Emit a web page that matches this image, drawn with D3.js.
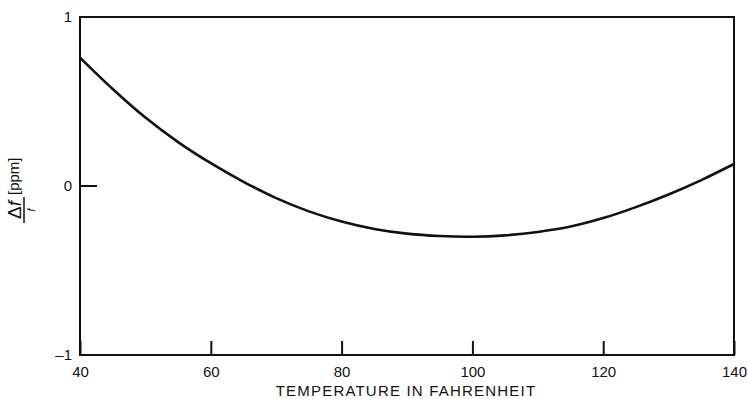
<!DOCTYPE html>
<html>
<head>
<meta charset="utf-8">
<script src="https://cdn.jsdelivr.net/npm/d3@7"></script>
<style>
  body { margin: 0; background: #fff; }
  text { font-family: "Liberation Sans", Arial, sans-serif; fill: #111; }
</style>
</head>
<body>
<div id="chart"></div>
<script>
// temperature (F) and frequency drift (ppm)
var temps = [40, 45, 50, 55, 60, 65, 70, 75, 80, 85, 90, 95, 100, 105, 110, 115, 120, 125, 130, 135, 140];
var drift = [0.76, 0.574, 0.405, 0.26, 0.135, 0.025, -0.072, -0.15, -0.21, -0.254, -0.282, -0.296, -0.30, -0.292, -0.272, -0.24, -0.19, -0.125, -0.05, 0.035, 0.13];

var xTicks = [40, 60, 80, 100, 120, 140];
var yTicks = [-1, 0, 1];
var xTitle = "TEMPERATURE IN FAHRENHEIT";

var width = 748, height = 399;
var plotLeft = 80, plotRight = 734, plotTop = 17, plotBottom = 355;

var svg = d3.select("#chart").append("svg")
  .attr("width", width)
  .attr("height", height);

var x = d3.scaleLinear().domain([40, 140]).range([plotLeft, plotRight]);
var y = d3.scaleLinear().domain([-1, 1]).range([plotBottom, plotTop]);

// frame
svg.append("rect")
  .attr("x", plotLeft).attr("y", plotTop)
  .attr("width", plotRight - plotLeft).attr("height", plotBottom - plotTop)
  .attr("fill", "none")
  .attr("stroke", "#111")
  .attr("stroke-width", 2);

// bottom axis, ticks point inward
var xAxis = svg.append("g")
  .attr("transform", "translate(0," + plotBottom + ")")
  .call(d3.axisBottom(x).tickValues(xTicks).tickSize(-14).tickPadding(22).tickFormat(d3.format("d")));
xAxis.select(".domain").remove();
xAxis.selectAll("line").attr("stroke", "#111").attr("stroke-width", 2);
xAxis.selectAll("text").attr("font-size", 15).attr("dy", "0");

// left axis, only the zero tick has a visible mark
var yAxis = svg.append("g")
  .attr("transform", "translate(" + plotLeft + ",0)")
  .call(d3.axisLeft(y).tickValues(yTicks).tickSize(0).tickPadding(8)
    .tickFormat(function (d) { return d < 0 ? "\u2013" + Math.abs(d) : d; }));
yAxis.select(".domain").remove();
yAxis.selectAll("text").attr("font-size", 15);

svg.append("line")
  .attr("x1", plotLeft).attr("x2", plotLeft + 17)
  .attr("y1", y(0)).attr("y2", y(0))
  .attr("stroke", "#111").attr("stroke-width", 2);

// curve
var line = d3.line()
  .x(function (d, i) { return x(temps[i]); })
  .y(function (d) { return y(d); })
  .curve(d3.curveCatmullRom);

svg.append("path")
  .datum(drift)
  .attr("d", line)
  .attr("fill", "none")
  .attr("stroke", "#111")
  .attr("stroke-width", 2.6);

// x title
svg.append("text")
  .attr("x", (plotLeft + plotRight) / 2 - 1)
  .attr("y", 396)
  .attr("text-anchor", "middle")
  .attr("font-size", 15)
  .attr("letter-spacing", 1.2)
  .text(xTitle);

// y title: delta f over f [ppm], rotated
var yt = svg.append("g").attr("transform", "translate(24,210) rotate(-90)");
var num = yt.append("text")
  .attr("x", 0).attr("y", -3)
  .attr("text-anchor", "middle")
  .attr("font-size", 19);
num.append("tspan").text("\u0394");
num.append("tspan").attr("font-style", "italic").text("f");
yt.append("line")
  .attr("x1", -13).attr("x2", 13)
  .attr("y1", 0).attr("y2", 0)
  .attr("stroke", "#111").attr("stroke-width", 1.5);
yt.append("text")
  .attr("x", 0).attr("y", 11)
  .attr("text-anchor", "middle")
  .attr("font-size", 11)
  .attr("font-style", "italic")
  .text("f");
yt.append("text")
  .attr("x", 15).attr("y", -5)
  .attr("font-size", 15)
  .text("[ppm]");
</script>
</body>
</html>
